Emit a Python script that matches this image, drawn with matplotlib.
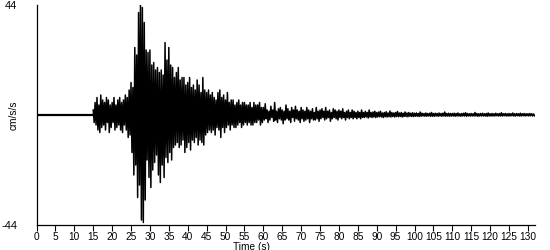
import matplotlib
matplotlib.use("Agg")
import matplotlib.pyplot as plt
import numpy as np

# quiet part before the P arrival
time_pre = [0.0, 15.0]
accel_pre = [0.0, 0.0]

# strong motion, 15 s - 60 s, read at 0.25 s steps (cm/s/s)
accel_strong = [
    2, -3, 5, -4,   7, -6, 4, -7,   8, -5, 6, -4,   5, -6, 7, -3,
    6, -7, 4, -5,   5, -3, 7, -6,   4, -5, 6, -4,   7, -6, 5, -7,
    6, -4, 8, -6,   7, -9, 10, -8,  13, -15, 11, -24, 27, -20, 24, -33,
    41, -28, 44, -42, 43, -43, 37, -34, 26, -18, 25, -25, 26, -29, 20, -22,
    21, -19, 18, -16, 19, -24, 17, -27, 18, -20, 16, -25, 29, -17, 22, -19,
    27, -15, 20, -18, 19, -13, 15, -12, 17, -11, 19, -13, 14, -12, 15, -10,
    15, -15, 12, -13, 13, -11, 15, -14, 11, -10, 12, -11, 10, -9, 14, -12,
    12, -10, 9, -11, 15, -12, 10, -8,  9, -7, 10, -6,   8, -7, 9, -6,
    7, -8, 6, -5,   9, -6, 10, -9,  7, -5, 8, -7,   6, -5, 9, -4,
    5, -6, 6, -4,   6, -5, 4, -5,   5, -4, 6, -3,   4, -5, 5, -4,
    5, -3, 4, -4,   4, -3, 5, -4,   3, -4, 5, -3,   4, -3, 4, -2,
    5, -4, 3, -3,
]

# coda, 60 s - 132 s, read at 0.25 s steps (cm/s/s)
accel_coda = [
    3, -2, 4.5, -1.5, 2, -3, 1.5, -2, 3.5, -1, 2, -2.5, 5, -2, 1.5, -3, 2.5, -1.5, 3, -2,
    2, -3.5, 1.5, -2, 4, -1.5, 2.5, -2, 1.5, -3, 3, -1, 2, -2.5, 3.5, -1.5, 2, -2, 1.5, -3,
    3, -1.5, 2, -2.5, 1.5, -2, 3, -1.5, 2, -3, 1.5, -1.5, 2.5, -2, 1, -2, 3, -1.5, 1.5, -2.5,
    2, -1.5, 2.5, -1, 1.5, -2, 3, -1.5, 1.5, -1, 2, -2.5, 1, -1.5, 2.5, -1, 2, -1.5, 1.5, -2,
    2, -1, 1.5, -1.5, 2.5, -1, 1, -2, 1.5, -1, 2, -1.5, 1, -1, 2, -1.5, 1.5, -1, 1, -1.5,
    1.5, -1, 1, -1.5, 2, -1, 1, -1, 1.5, -0.8, 1, -1.2, 2, -0.8, 1, -1, 1.2, -0.8, 1.5, -1,
    1, -0.8, 1.2, -0.7, 1.5, -0.8, 0.8, -1, 1, -0.7, 1.3, -0.8, 0.8, -0.7, 1.6, -0.8, 1, -0.6, 0.8, -0.8,
    1, -0.6, 1.4, -0.7, 0.8, -0.6, 1, -0.8, 0.7, -0.6, 1.2, -0.6, 0.8, -0.7, 1, -0.5, 0.7, -0.6, 0.9, -0.6,
    0.7, -0.5, 0.8, -0.5, 0.6, -0.6, 1.2, -0.5, 0.7, -0.4, 0.6, -0.5, 0.8, -0.5, 0.6, -0.4, 0.7, -0.5, 1, -0.5,
    0.6, -0.5, 0.7, -0.4, 0.6, -0.5, 0.8, -0.4, 0.6, -0.5, 0.7, -0.4, 1.2, -0.5, 0.6, -0.4, 0.7, -0.5, 0.6, -0.4,
    0.6, -0.4, 0.7, -0.5, 0.6, -0.4, 0.8, -0.4, 0.5, -0.5, 0.6, -0.4, 0.7, -0.4, 0.9, -0.5, 0.6, -0.4, 0.5, -0.4,
    0.6, -0.4, 0.5, -0.4, 1, -0.4, 0.6, -0.5, 0.5, -0.4, 0.6, -0.4, 0.7, -0.4, 0.5, -0.4, 0.6, -0.5, 0.8, -0.4,
    0.5, -0.4, 0.6, -0.4, 0.5, -0.4, 0.7, -0.3, 0.5, -0.4, 0.6, -0.4, 0.9, -0.4, 0.5, -0.3, 0.6, -0.4, 0.5, -0.4,
    0.6, -0.4, 0.5, -0.3, 0.8, -0.4, 0.5, -0.4, 0.6, -0.3, 0.5, -0.4, 0.7, -0.4, 0.5, -0.3, 0.6, -0.4, 0.5, -0.3,
    0.5, -0.4, 0.6, -0.3, 0.5, -0.4, 0.4, -0.3,
]

x_ticks = list(range(0, 131, 5))
y_limit = 44

time_strong = 15.0 + 0.25 * np.arange(len(accel_strong))
time_coda = 60.0 + 0.25 * np.arange(len(accel_coda))

time = np.concatenate([time_strong, time_coda])
accel = np.concatenate([accel_strong, accel_coda])

plt.rcParams['font.family'] = ['Liberation Sans', 'DejaVu Sans']

fig = plt.figure(figsize=(5.5, 2.5), dpi=100)
ax = fig.add_axes([0.0664, 0.1, 0.9072, 0.88])

ax.plot(time_pre, accel_pre, color='black', linewidth=1.6, solid_capstyle='butt')
ax.plot(time, accel, color='black', linewidth=1.1)

ax.set_xlim(0, 132)
ax.set_ylim(-y_limit, y_limit)
ax.set_xticks(x_ticks)
ax.set_xticklabels([str(t) for t in x_ticks], fontsize=7.3)
ax.set_yticks([-y_limit, y_limit])
ax.set_yticklabels([str(-y_limit), str(y_limit)], fontsize=8)
ax.tick_params(axis='x', direction='out', length=4, width=0.8, pad=1)
ax.tick_params(axis='y', length=0, pad=14)

for side in ('top', 'right'):
    ax.spines[side].set_visible(False)
for side in ('left', 'bottom'):
    ax.spines[side].set_linewidth(0.9)

ax.set_xlabel('Time (s)', fontsize=7.3, labelpad=0)
ax.xaxis.set_label_coords(0.43, -0.075)
ax.set_ylabel('cm/s/s', fontsize=7.3)
ax.yaxis.set_label_coords(-0.035, 0.5)

fig.savefig('out.png', dpi=100)
